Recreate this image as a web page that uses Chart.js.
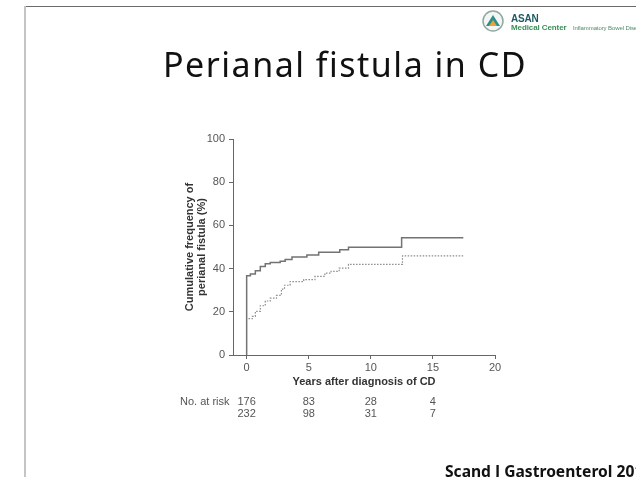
<!DOCTYPE html>
<html>
<head>
<meta charset="utf-8">
<script src="https://cdn.jsdelivr.net/npm/chart.js@4"></script>
<style>
  html, body { margin: 0; padding: 0; background: #fff; }
  #page { position: relative; width: 636px; height: 477px; overflow: hidden; background: #fff; }
  #myChart { position: absolute; left: 0; top: 0; }
  .topline { position: absolute; left: 25px; top: 6px; width: 611px; height: 1px; background: #6a6a6a; }
  .leftline { position: absolute; left: 24px; top: 6px; width: 2px; height: 471px; background: #c4c4c4; }
  .title { position: absolute; left: 0; width: 690px; top: 41px; text-align: center; font-family: "Noto Sans", sans-serif; font-size: 34px; letter-spacing: 1.5px; color: #111; }
  .ref { position: absolute; left: 445px; top: 460px; font-family: "Noto Sans", sans-serif; font-weight: bold; font-size: 15.6px; color: #111; white-space: nowrap; }
  .logo { position: absolute; left: 482px; top: 10px; }
  .asan { position: absolute; left: 511px; top: 13px; font-family: "Liberation Sans", sans-serif; font-weight: bold; font-size: 10px; letter-spacing: -0.2px; color: #1d5b62; }
  .mc { position: absolute; left: 511px; top: 23px; font-family: "Liberation Sans", sans-serif; font-weight: bold; font-size: 8px; letter-spacing: -0.1px; color: #3b8f5a; white-space: nowrap; }
  .ibd { position: absolute; left: 573px; top: 25px; font-family: "Liberation Sans", sans-serif; font-size: 6px; letter-spacing: -0.1px; color: #4f8a6a; white-space: nowrap; }
</style>
</head>
<body>
<div id="page">
  <canvas id="myChart" width="636" height="477"></canvas>
  <div class="topline"></div>
  <div class="leftline"></div>
  <svg class="logo" width="22" height="22" viewBox="0 0 22 22">
    <circle cx="11" cy="11" r="10" fill="#f3f6f4" stroke="#8fa9a0" stroke-width="1.5"/>
    <path d="M4 16 L11 5 L18 16 Z" fill="#2f8d8a"/>
    <path d="M7 16 L11 10 L15 16 Z" fill="#e8a33a"/>
  </svg>
  <div class="asan">ASAN</div>
  <div class="mc">Medical Center</div>
  <div class="ibd">Inflammatory Bowel Disease</div>
  <div class="title">Perianal fistula in CD</div>
  <div class="ref">Scand J Gastroenterol 2013</div>
</div>
<script>
// solid curve (upper) and dotted curve (lower)
var solidYears = [0, 0, 0.3, 0.7, 1.1, 1.5, 1.9, 2.7, 3.1, 3.65, 4.85, 5.8, 7.5, 8.2, 12.48, 17.45];
var solidValues = [0, 36.7, 37.5, 39, 41, 42.2, 42.8, 43.4, 44.2, 45.4, 46.3, 47.6, 48.7, 49.9, 54.3, 54.3];
var dottedYears = [0.15, 0.45, 0.7, 1.1, 1.5, 1.9, 2.4, 2.8, 3.05, 3.5, 4.6, 5.5, 6.3, 6.8, 7.45, 8.2, 12.55, 17.45];
var dottedValues = [16.8, 17.9, 20.2, 22.8, 25, 26.3, 27.6, 30.5, 32.3, 34, 34.9, 36.4, 37.9, 38.7, 40.2, 42, 45.9, 45.9];
var xTicks = [0, 5, 10, 15, 20];
var yTicks = [0, 20, 40, 60, 80, 100];
var atRiskYears = [0, 5, 10, 15];
var atRiskA = [176, 83, 28, 4];
var atRiskB = [232, 98, 31, 7];

function toPoints(xs, ys){
	var pts = [];
	for(var i = 0; i < xs.length; i++){
		pts.push({x: xs[i], y: ys[i]});
	}
	return pts;
}

var tickFont = {family: 'Liberation Sans', size: 11};
var titleFont = {family: 'Liberation Sans', size: 11, weight: 'bold', lineHeight: 1.1};

var atRiskPlugin = {
	id: 'atRisk',
	afterDraw: function(chart){
		var ctx = chart.ctx;
		var xs = chart.scales.x;
		ctx.save();
		ctx.font = '11px "Liberation Sans"';
		ctx.fillStyle = '#555';
		ctx.textBaseline = 'middle';
		ctx.textAlign = 'left';
		ctx.fillText('No. at risk', 180, 402);
		ctx.textAlign = 'center';
		for(var i = 0; i < atRiskYears.length; i++){
			var px = xs.getPixelForValue(atRiskYears[i]);
			ctx.fillText(String(atRiskA[i]), px, 402);
			ctx.fillText(String(atRiskB[i]), px, 414);
		}
		ctx.restore();
	}
};

var ctx = document.getElementById('myChart').getContext('2d');
var chart = new Chart(ctx, {
	type: 'line',
	data: {
		datasets: [{
			data: toPoints(solidYears, solidValues),
			borderColor: '#737373',
			borderWidth: 1.5,
			stepped: 'before',
			pointRadius: 0,
			fill: false
		}, {
			data: toPoints(dottedYears, dottedValues),
			borderColor: '#8c8c8c',
			borderWidth: 1.2,
			borderDash: [1.5, 1.5],
			stepped: 'before',
			pointRadius: 0,
			fill: false
		}]
	},
	options: {
		responsive: false,
		animation: false,
		devicePixelRatio: 1,
		layout: {padding: {left: 184, top: 139, right: 141, bottom: 87}},
		plugins: {legend: {display: false}, tooltip: {enabled: false}},
		scales: {
			x: {
				type: 'linear',
				min: -1.1,
				max: 20,
				afterBuildTicks: function(scale){
					scale.ticks = xTicks.map(function(v){ return {value: v}; });
				},
				afterFit: function(scale){ scale.height = 35; },
				border: {color: '#666', width: 1},
				grid: {drawOnChartArea: false, drawTicks: true, tickLength: 4, color: '#666'},
				ticks: {font: tickFont, color: '#555', padding: 2, maxRotation: 0},
				title: {display: true, text: 'Years after diagnosis of CD', font: titleFont, color: '#333', padding: {top: 0, bottom: 2}}
			},
			y: {
				min: 0,
				max: 100,
				afterBuildTicks: function(scale){
					scale.ticks = yTicks.map(function(v){ return {value: v}; });
				},
				afterFit: function(scale){ scale.width = 49; },
				border: {color: '#666', width: 1},
				grid: {drawOnChartArea: false, drawTicks: true, tickLength: 4, color: '#666'},
				ticks: {font: tickFont, color: '#555', padding: 4},
				title: {display: true, text: ['Cumulative frequency of', 'perianal fistula (%)'], font: titleFont, color: '#333', padding: 0}
			}
		}
	},
	plugins: [atRiskPlugin]
});
</script>
</body>
</html>
